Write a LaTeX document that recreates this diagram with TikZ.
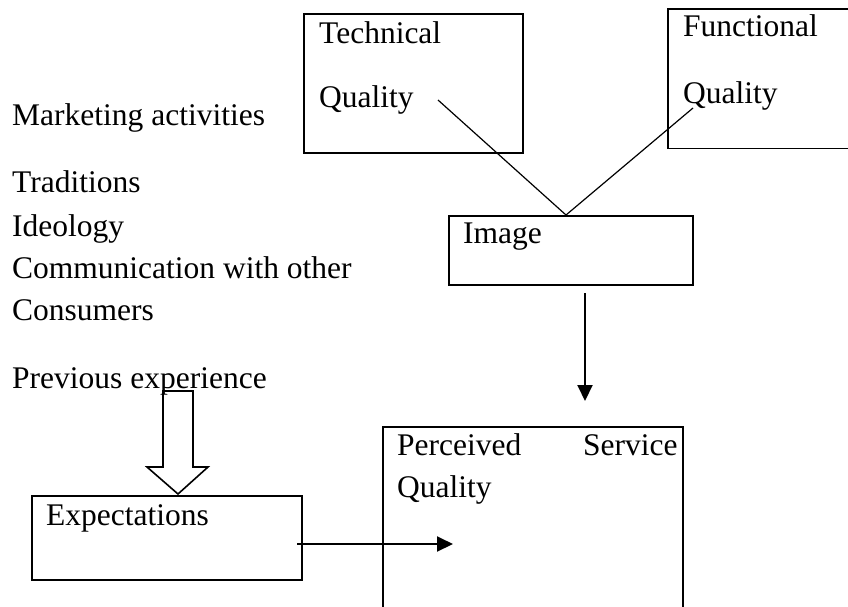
\documentclass[tikz,border=0pt]{standalone}
\usepackage{fontspec}
\setmainfont{Liberation Serif}
\usetikzlibrary{arrows.meta}

\tikzset{
  box/.style={draw, line width=1.6pt, anchor=north west, inner sep=0pt},
  txt/.style={anchor=base west, inner sep=0pt, font=\fontsize{31.5}{38}\selectfont},
  link/.style={line width=1.2pt},
  arr/.style={line width=2pt, -{Triangle[length=16pt,width=15pt]}},
}

\begin{document}
\begin{tikzpicture}[x=1pt,y=-1pt]
\useasboundingbox (0,0) rectangle (848,606);
\clip (0,0) rectangle (848,606);

%Shape: Rectangle
\node[box, minimum width=219pt, minimum height=139pt] (tech) at (303,13) {};
%Shape: Rectangle (runs off the right edge)
\node[box, draw=none, minimum width=230pt, minimum height=138pt] (func) at (668,9) {};
\draw[line width=1.6pt] (func.north east) -- (func.north west) -- (func.south west) -- (func.south east);
%Shape: Rectangle
\node[box, minimum width=244pt, minimum height=69pt] (img) at (448,215) {};
%Shape: Rectangle
\node[box, minimum width=300pt, minimum height=220pt] (perc) at (382,426) {};
%Shape: Rectangle
\node[box, minimum width=270pt, minimum height=84pt] (expect) at (31,495) {};

% Text Node
\node[txt] (techA) at (319,43) {Technical};
% Text Node
\node[txt] (techB) at (319,107) {Quality};
% Text Node
\node[txt] (funcA) at (683,36) {Functional};
% Text Node
\node[txt] (funcB) at (683,103) {Quality};
% Text Node
\node[txt] (imgT) at (463,243) {Image};
% Text Node
\node[txt] (percA) at (397,455) {Perceived};
% Text Node
\node[txt] (percB) at (583,455) {Service};
% Text Node
\node[txt] (percC) at (397,497) {Quality};
% Text Node
\node[txt] (expectT) at (46,525) {Expectations};

% Text Node
\node[txt] (mkt) at (12,125) {Marketing activities};
% Text Node
\node[txt] (trad) at (12,192) {Traditions};
% Text Node
\node[txt] (ideo) at (12,236) {Ideology};
% Text Node
\node[txt] (comm) at (12,278) {Communication with other};
% Text Node
\node[txt] (cons) at (12,320) {Consumers};
% Text Node
\node[txt] (prev) at (12,388) {Previous experience};

%Straight Lines
\coordinate (techEnd) at (438,100);
\coordinate (funcEnd) at (693,108);
\coordinate (apex) at (566,215);
\draw[link] (techEnd) -- (apex);
\draw[link] (funcEnd) -- (apex);

%Straight Lines
\coordinate (imgOut) at (585,293);
\coordinate (percIn) at (585,401);
\draw[arr] (imgOut) -- (percIn);

%Straight Lines
\coordinate (expOut) at (297,544);
\coordinate (expIn) at (453,544);
\draw[arr] (expOut) -- (expIn);

%Shape: Block Arrow
\draw[line width=1.6pt, line join=miter] (163,391) -- (193,391) -- (193,467) -- (208,467) -- (178,494) -- (147,467) -- (163,467) -- cycle;

\end{tikzpicture}
\end{document}
